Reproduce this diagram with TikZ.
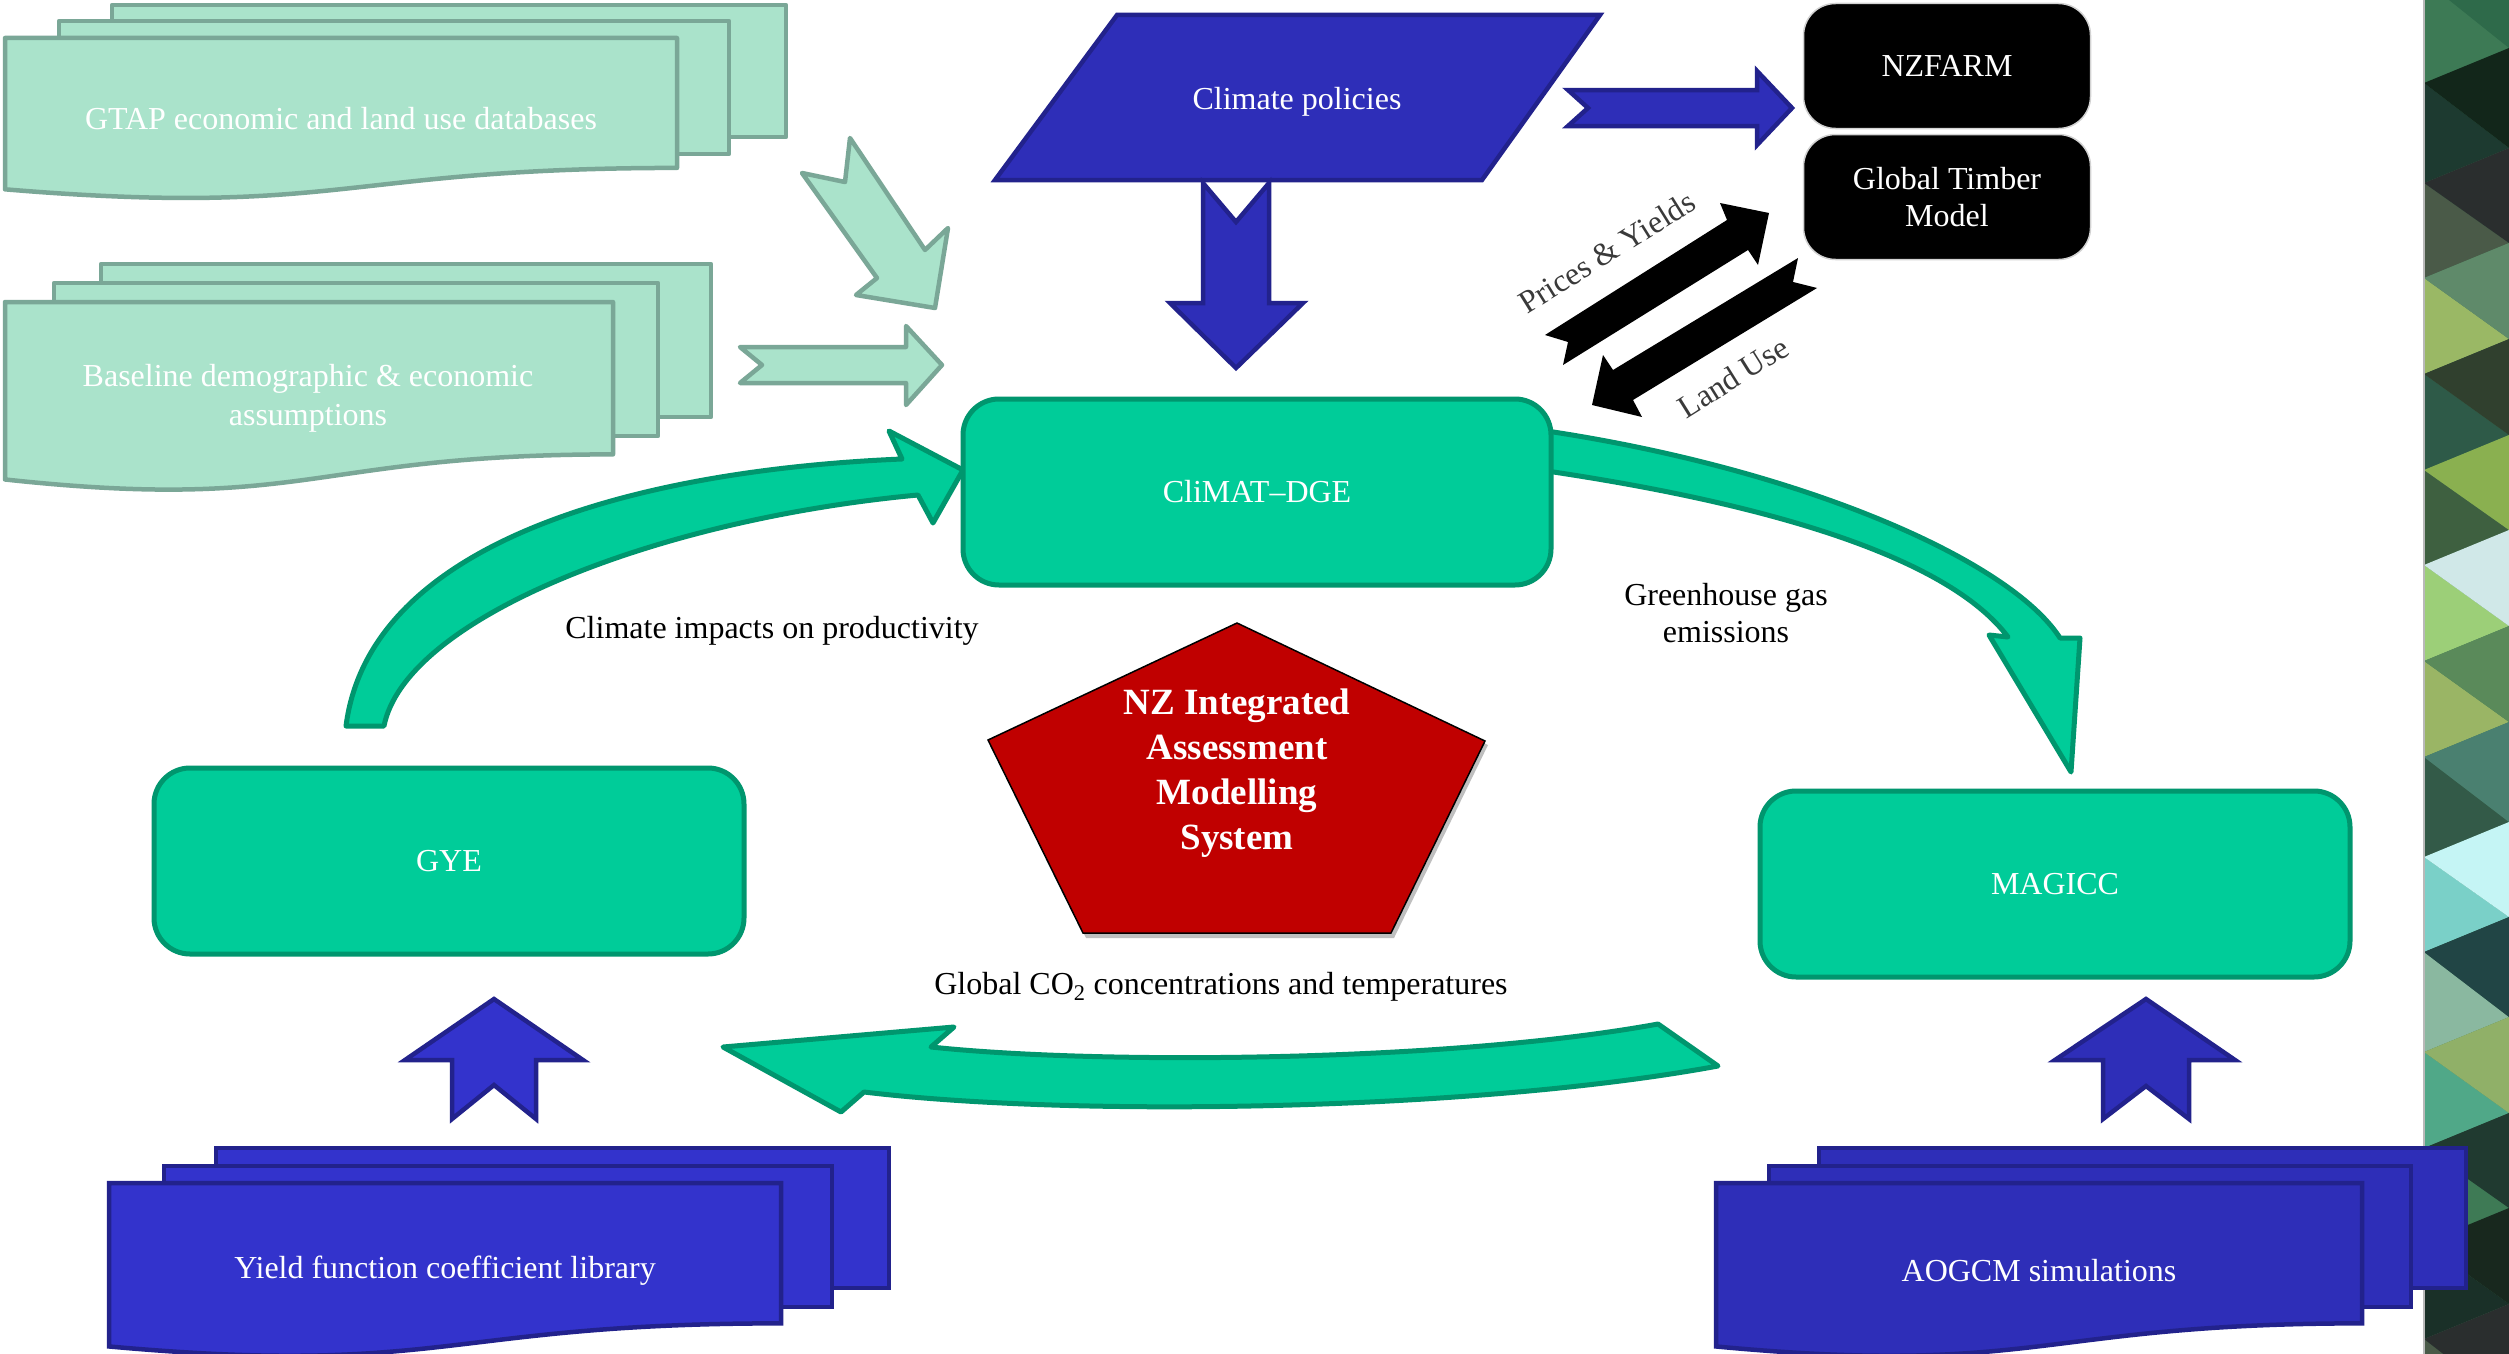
\documentclass[tikz,border=0pt]{standalone}
\usepackage{fontspec}
\setmainfont{Liberation Serif}
\usetikzlibrary{shapes.geometric}
\definecolor{lgfill}{HTML}{AAE3CB}
\definecolor{lgdraw}{HTML}{7AA797}
\definecolor{bfill}{HTML}{3333CC}
\definecolor{bfillb}{HTML}{2E2EB8}
\definecolor{bdraw}{HTML}{22228C}
\definecolor{tfill}{HTML}{00CC99}
\definecolor{tdraw}{HTML}{00966E}
\definecolor{pred}{HTML}{C00000}
\definecolor{lbltext}{HTML}{3A3A3A}
\newcommand{\docrect}[5]{\draw[#1] (#2,#3) rectangle (#4,#5);}
\newcommand{\docfront}[5]{\draw[#1] (#2,#3) -- ({#2+#4},#3) -- ({#2+#4},{#3+0.802*#5}) .. controls ({#2+0.5*#4},{#3+0.802*#5}) and ({#2+0.5*#4},{#3+1.1075*#5}) .. (#2,{#3+0.934*#5}) -- cycle;}
\tikzset{
  lgshape/.style={fill=lgfill, draw=lgdraw, line width=4.5pt, line join=round},
  blueshape/.style={fill=bfill, draw=bdraw, line width=4.5pt, line join=miter},
  blueshapeb/.style={fill=bfillb, draw=bdraw, line width=4.5pt, line join=miter},
  tealshape/.style={fill=tfill, draw=tdraw, line width=5pt, line join=round},
  tealbox/.style={tealshape, rounded corners=36pt, minimum width=588pt, minimum height=186pt, text=white, font=\fontsize{32}{38}\selectfont},
  blackbox/.style={fill=black, draw=gray!35, line width=1.5pt, rounded corners=32pt, minimum width=287pt, minimum height=125pt, text=white, align=center, font=\fontsize{32}{37}\selectfont},
  whitetext/.style={text=white, align=center, font=\fontsize{32}{39}\selectfont},
  captiontext/.style={text=black, align=center, font=\fontsize{32}{37}\selectfont},
  rottext/.style={text=lbltext, font=\fontsize{32}{37}\selectfont},
}
\begin{document}
\begin{tikzpicture}[x=1pt,y=-1pt]
\useasboundingbox (0,0) rectangle (2509,1354);
\fill[white] (0,0) rectangle (2509,1354);

% decorative strip
\begin{scope}
\clip (2424,0) rectangle (2509,1354);
\fill[fill={rgb,255:red,61;green,122;blue,85}] (2424,-150) rectangle (2509,1500);
\foreach \a/\b/\cl/\cr in {
 -20/83/3D7A55/2E6A4A,
 83/183/1D3A30/12261A,
 183/278/4A5A48/2A2E2E,
 278/374/9AB865/5F8A6A,
 374/470/2E5A48/30402E,
 470/565/3E6040/8AB050,
 565/661/9CCF78/D0E8E8,
 661/757/9AB565/5A8A5A,
 757/857/335A48/4A8070,
 857/952/7AD0C8/C5F5F5,
 952/1052/8AB8A0/214545,
 1052/1148/50A888/90B068,
 1148/1243/3E7A55/203A30,
 1243/1339/1A3028/18281E,
 1339/1440/4A5A48/2A2E2E}{
  \definecolor{tmpl}{HTML}{\cl}
  \definecolor{tmpr}{HTML}{\cr}
  \fill[tmpl] (2424,\a) -- (2424,\b) -- (2509,{\b-35}) -- cycle;
  \fill[tmpr] (2424,\a) -- (2509,{\a-35}) -- (2509,{\b-35}) -- cycle;
}
\end{scope}
\draw[gray!55, line width=2pt] (2424,0) -- (2424,1354);

% GTAP multi-document
\docrect{lgshape}{112}{5}{786}{137}
\docrect{lgshape}{59}{21}{729}{154}
\docfront{lgshape}{5}{38}{672}{162}
\node[whitetext] (gtap) at (341,119) {GTAP economic and land use databases};

% Baseline multi-document
\docrect{lgshape}{101}{264}{711}{417}
\docrect{lgshape}{54}{283}{658}{436}
\docfront{lgshape}{5}{302}{608}{190}
\node[whitetext] (base) at (308,398) {Baseline demographic \& economic\\assumptions};

% light green arrows
\draw[lgshape] (850,138) -- (925,250) -- (948,228) -- (935,308) -- (856,295) -- (877,278) -- (802,173) -- (845,182) -- cycle;
\draw[lgshape] (740,347) -- (906,347) -- (906,326) -- (942,365) -- (906,405) -- (906,383) -- (740,383) -- (762,365) -- cycle;

% Climate policies
\draw[blueshapeb] (1117,15) -- (1600,15) -- (1482,180) -- (995,180) -- cycle;
\node[whitetext] (cp) at (1297,102) {Climate policies};
\draw[blueshapeb] (1203,183) -- (1236,222) -- (1269,183) -- (1269,303) -- (1303,303) -- (1236,368) -- (1170,303) -- (1203,303) -- cycle;
\draw[blueshapeb] (1568,90) -- (1757,90) -- (1757,71) -- (1792,108) -- (1757,145) -- (1757,126) -- (1568,126) -- (1588,108) -- cycle;

% black boxes
\node[blackbox] (nzfarm) at (1947,66) {NZFARM};
\node[blackbox] (gtm) at (1947,197) {Global Timber\\Model};

% black arrows
\fill[black] (1545,335) -- (1727,220) -- (1720,203) -- (1769,213) -- (1758,265) -- (1748,250) -- (1563,365) -- (1568,342) -- cycle;
\fill[black] (1798,258) -- (1613,370) -- (1603,355) -- (1592,405) -- (1642,417) -- (1633,400) -- (1817,288) -- (1793,282) -- cycle;
\node[rottext, rotate=32] (py) at (1607,252) {Prices \& Yields};
\node[rottext, rotate=32] (lu) at (1733,377) {Land Use};

% green curved arrows
\draw[tealshape] (346,726) .. controls (370,540) and (640,470) .. (902,459) -- (889,431) -- (963,470) -- (933,523) -- (918,495) .. controls (650,520) and (405,620) .. (384,726) -- cycle;
\draw[tealshape] (1540,430) .. controls (1800,468) and (2010,560) .. (2060,638) -- (2080,638) -- (2071,772) -- (1989,635) -- (2008,637) .. controls (1950,560) and (1780,505) .. (1540,470) -- cycle;
\draw[tealshape] (1658,1024) .. controls (1450,1062) and (1100,1065) .. (931,1047) -- (954,1027) -- (723,1047) -- (841,1112) -- (864,1092) .. controls (1080,1118) and (1480,1110) .. (1718,1066) -- cycle;

% teal boxes
\node[tealbox] (climat) at (1257,492) {CliMAT–DGE};
\node[tealbox, minimum width=590pt] (gye) at (449,861) {GYE};
\node[tealbox, minimum width=590pt] (magicc) at (2055,884) {MAGICC};

% labels
\node[captiontext] (cip) at (772,631) {Climate impacts on productivity};
\node[captiontext] (ghg) at (1726,613) {Greenhouse gas\\emissions};
\node[captiontext] (gco) at (1221,987) {Global CO\textsubscript{2} concentrations and temperatures};

% pentagon
\fill[black!25] (1240,627) -- (1488,745) -- (1394,938) -- (1086,938) -- (991,744) -- cycle;
\draw[fill=pred, draw=black, line width=1.5pt, line join=miter] (1237,623) -- (1485,741) -- (1391,933) -- (1083,933) -- (988,740) -- cycle;
\node[text=white, align=center, font=\bfseries\fontsize{37}{45}\selectfont] (nzias) at (1237,773) {NZ Integrated\\Assessment\\Modelling\\System};

% blue up arrows
\draw[blueshape] (452,1119) -- (494,1085) -- (536,1119) -- (536,1060) -- (583,1060) -- (494,999) -- (405,1060) -- (452,1060) -- cycle;
\draw[blueshapeb] (2103,1119) -- (2146,1086) -- (2189,1119) -- (2189,1060) -- (2235,1060) -- (2146,999) -- (2055,1060) -- (2103,1060) -- cycle;

% Yield function multi-document
\docrect{blueshape}{216}{1148}{889}{1288}
\docrect{blueshape}{164}{1166}{832}{1307}
\docfront{blueshape}{109}{1183}{672}{175}
\node[whitetext] (yfl) at (445,1271) {Yield function coefficient library};

% AOGCM multi-document
\docrect{blueshapeb}{1819}{1148}{2466}{1288}
\docrect{blueshapeb}{1769}{1166}{2411}{1307}
\docfront{blueshapeb}{1716}{1183}{646}{175}
\node[whitetext] (aogcm) at (2039,1271) {AOGCM simulations};
\end{tikzpicture}
\end{document}
